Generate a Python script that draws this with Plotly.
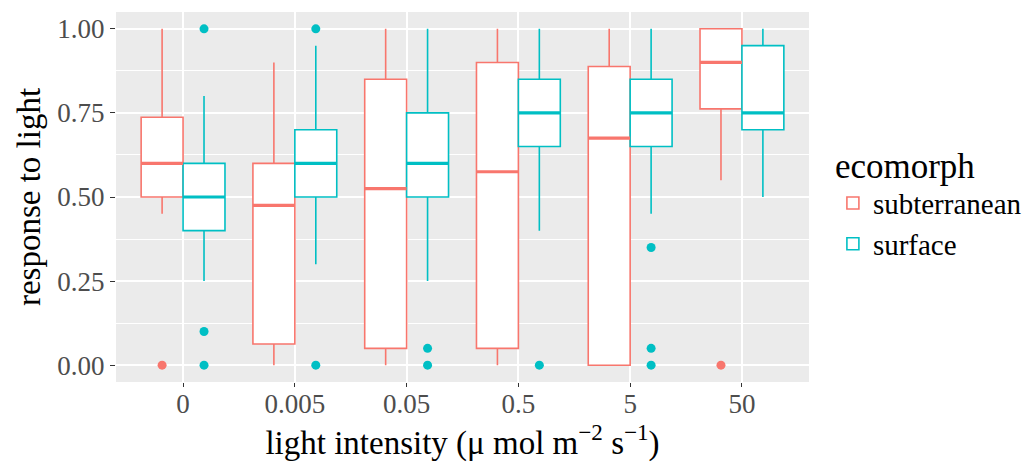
import plotly.graph_objects as go

intensity = ['0', '0.005', '0.05', '0.5', '5', '50']

# subterranean boxes
sub_low = [0.45, 0.0, 0.0, 0.0, 0.0, 0.55]
sub_q1 = [0.50, 0.063, 0.05, 0.05, 0.0, 0.762]
sub_med = [0.60, 0.475, 0.525, 0.575, 0.675, 0.90]
sub_q3 = [0.737, 0.60, 0.85, 0.90, 0.888, 1.0]
sub_high = [1.0, 0.90, 1.0, 1.0, 1.0, 1.0]
sub_out_x = ['0', '50']
sub_out_y = [0.0, 0.0]

# surface boxes
surf_low = [0.25, 0.30, 0.25, 0.40, 0.45, 0.50]
surf_q1 = [0.40, 0.50, 0.50, 0.65, 0.65, 0.70]
surf_med = [0.50, 0.60, 0.60, 0.75, 0.75, 0.75]
surf_q3 = [0.60, 0.70, 0.75, 0.85, 0.85, 0.95]
surf_high = [0.80, 0.95, 1.0, 1.0, 1.0, 1.0]
surf_out_x = ['0', '0', '0', '0.005', '0.005', '0.05', '0.05', '0.5', '5', '5', '5']
surf_out_y = [1.0, 0.10, 0.0, 1.0, 0.0, 0.05, 0.0, 0.0, 0.35, 0.05, 0.0]

RED = '#F8766D'
TEAL = '#00BFC4'
W = 0.375  # box width in category units
FONT = 'Liberation Serif'

idx = {c: i for i, c in enumerate(intensity)}

fig = go.Figure()

groups = [
    ('subterranean', RED, -W / 2, sub_low, sub_q1, sub_med, sub_q3, sub_high, sub_out_x, sub_out_y),
    ('surface', TEAL, W / 2, surf_low, surf_q1, surf_med, surf_q3, surf_high, surf_out_x, surf_out_y),
]

for name, col, off, lo, q1, med, q3, hi, ox, oy in groups:
    xs = [i + off for i in range(len(intensity))]
    fig.add_trace(go.Box(
        x=xs, q1=q1, median=med, q3=q3, lowerfence=lo, upperfence=hi,
        width=W, name=name, legendgroup=name,
        line=dict(color=col, width=1.6), fillcolor='white',
        whiskerwidth=0, hoverinfo='skip'))
    # thicker median bars like ggplot
    mx, my = [], []
    for x, m in zip(xs, med):
        mx += [x - W / 2, x + W / 2, None]
        my += [m, m, None]
    fig.add_trace(go.Scatter(x=mx, y=my, mode='lines', line=dict(color=col, width=3.2),
                             showlegend=False, legendgroup=name, hoverinfo='skip'))
    fig.add_trace(go.Scatter(x=[idx[c] + off for c in ox], y=oy, mode='markers',
                             marker=dict(color=col, size=9), showlegend=False,
                             legendgroup=name, hoverinfo='skip'))

# page body has an 8px margin, so the figure is sized to fit inside it
fig.update_layout(
    width=1022, height=454,
    margin=dict(l=108, r=220, t=4, b=80),
    plot_bgcolor='#EBEBEB', paper_bgcolor='white',
    font=dict(family=FONT, color='black'),
    legend=dict(title=dict(text='ecomorph', font=dict(size=35)), font=dict(size=29),
                x=1.033, xanchor='left', y=0.49, yanchor='middle',
                tracegroupgap=0, itemwidth=30),
)
fig.update_xaxes(
    range=[-0.6, len(intensity) - 0.4], automargin=False,
    tickvals=list(range(len(intensity))), ticktext=intensity,
    showgrid=True, gridcolor='white', gridwidth=1.5, zeroline=False,
    ticks='outside', ticklen=4, tickcolor='#333333', ticklabelstandoff=-6,
    tickfont=dict(size=27, color='#4D4D4D', family=FONT),
    title=dict(text='light intensity (\u03bc mol m<sup>\u22122</sup> s<sup>\u22121</sup>)',
               font=dict(size=33, family=FONT), standoff=14),
)
fig.update_yaxes(
    range=[-0.05, 1.05], automargin=False,
    tickvals=[0, 0.25, 0.5, 0.75, 1.0], ticktext=['0.00', '0.25', '0.50', '0.75', '1.00'],
    showgrid=True, gridcolor='white', gridwidth=1.5, zeroline=False,
    minor=dict(tickvals=[0.125, 0.375, 0.625, 0.875], showgrid=True,
               gridcolor='white', gridwidth=0.7, ticks=''),
    ticks='outside', ticklen=5, tickcolor='#333333',
    tickfont=dict(size=27, color='#4D4D4D', family=FONT),
    title=dict(text='response to light', font=dict(size=33, family=FONT), standoff=6),
)

fig.write_html("out.html")
